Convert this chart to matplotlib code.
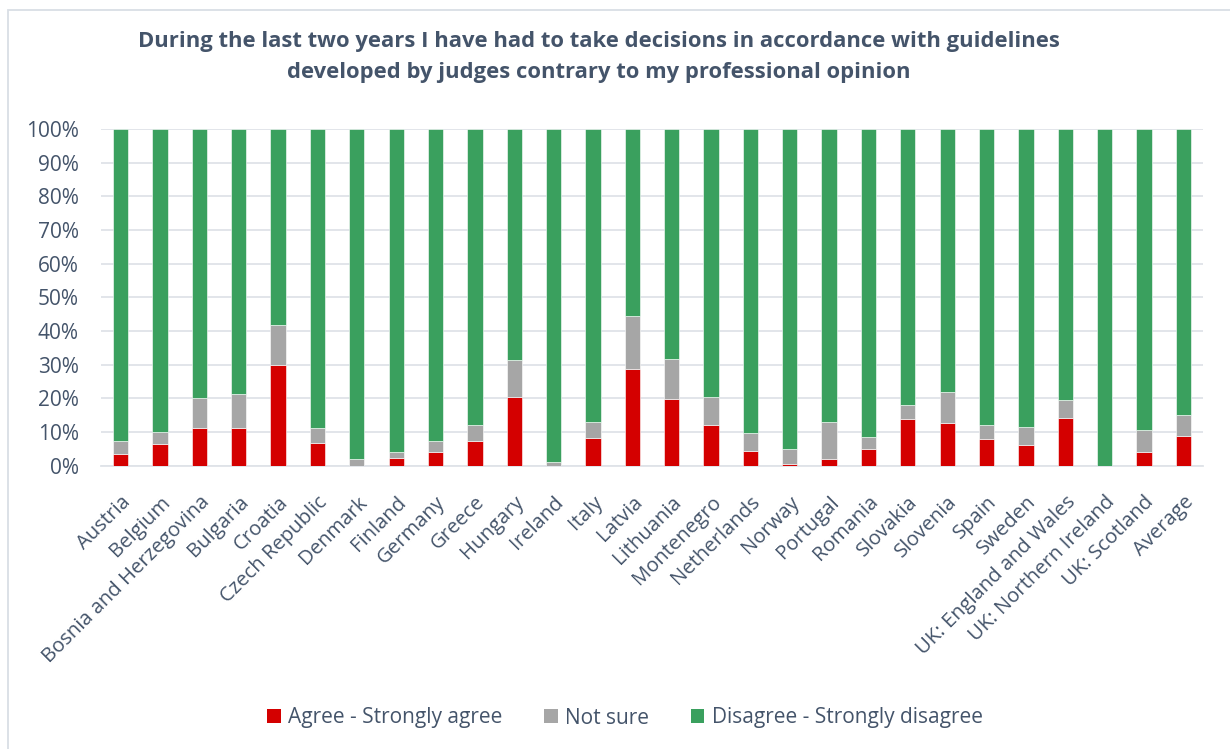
import matplotlib
matplotlib.use("Agg")
import matplotlib.pyplot as plt
from matplotlib.patches import Rectangle, Patch
from matplotlib.ticker import PercentFormatter
import numpy as np

categories = ["Austria", "Belgium", "Bosnia and Herzegovina", "Bulgaria", "Croatia",
              "Czech Republic", "Denmark", "Finland", "Germany", "Greece", "Hungary",
              "Ireland", "Italy", "Latvia", "Lithuania", "Montenegro", "Netherlands",
              "Norway", "Portugal", "Romania", "Slovakia", "Slovenia", "Spain", "Sweden",
              "UK: England and Wales", "UK: Northern Ireland", "UK: Scotland", "Average"]
agree = [3.6, 6.4, 11.3, 11.2, 29.9, 6.8, 0.0, 2.3, 4.1, 7.3, 20.4, 0.0, 8.3, 28.7,
         19.9, 12.1, 4.5, 0.6, 2.1, 5.0, 13.8, 12.8, 7.8, 6.2, 14.3, 0.0, 4.2, 8.9]
not_sure = [3.7, 3.5, 8.8, 10.1, 11.9, 4.4, 2.0, 1.8, 3.2, 4.8, 11.1, 1.1, 4.7, 15.7,
            11.8, 8.3, 5.3, 4.4, 10.8, 3.5, 4.2, 9.1, 4.2, 5.3, 5.2, 0.0, 6.4, 6.1]
disagree = [round(100 - a - n, 1) for a, n in zip(agree, not_sure)]
series_names = ["Agree - Strongly agree", "Not sure", "Disagree - Strongly disagree"]
title = ("During the last two years I have had to take decisions in accordance with guidelines\n"
         "developed by judges contrary to my professional opinion")

colors = ["#D40000", "#A6A6A6", "#3AA05E"]
text_color = "#44546A"
font = "Open Sans"

fig = plt.figure(figsize=(12.30, 7.49), dpi=100)
fig.patch.set_facecolor("white")
ax = fig.add_axes([101 / 1230, 1 - 465.7 / 749, (1203 - 101) / 1230, (465.7 - 129) / 749])

x = np.arange(len(categories))
w = 0.39
a = np.array(agree)
n = np.array(not_sure)
d = np.array(disagree)
ax.bar(x, a, w, color=colors[0], edgecolor="white", linewidth=0.4, zorder=3)
ax.bar(x, n, w, bottom=a, color=colors[1], edgecolor="white", linewidth=0.4, zorder=3)
ax.bar(x, d, w, bottom=a + n, color=colors[2], edgecolor="white", linewidth=0.4, zorder=3)

ax.set_xlim(-0.5, len(categories) - 0.5)
ax.set_ylim(0, 100)
ax.set_yticks(np.arange(0, 101, 10))
ax.yaxis.set_major_formatter(PercentFormatter(decimals=0))
ax.grid(axis="y", color="#DFE3E8", linewidth=1.3, zorder=0)
for s in ["top", "right", "left"]:
    ax.spines[s].set_visible(False)
ax.spines["bottom"].set_color("#DFE3E8")
ax.spines["bottom"].set_linewidth(1.3)
ax.tick_params(axis="both", length=0, colors=text_color, labelsize=15)
ax.tick_params(axis="y", pad=16)
ax.tick_params(axis="x", pad=19)
ax.set_xticks(x)
ax.set_xticklabels(categories, rotation=45, ha="right", rotation_mode="anchor",
                   fontfamily=font, color=text_color, fontsize=14.6)
for lab in ax.get_yticklabels():
    lab.set_fontfamily(font)

fig.text(0.487, 1 - 57 / 749, title, ha="center", va="center", fontsize=15.8,
         fontweight="bold", color=text_color, family=font, linespacing=1.62)

handles = [Patch(facecolor=c, label=l) for c, l in zip(colors, series_names)]
leg = fig.legend(handles=handles, loc="center", bbox_to_anchor=(625 / 1230, 1 - 718 / 749),
                 ncol=3, frameon=False, handlelength=0.65, handleheight=0.65,
                 handletextpad=0.35, columnspacing=2.0,
                 prop={"family": font, "size": 15})
for t in leg.get_texts():
    t.set_color(text_color)

fig.add_artist(Rectangle((8 / 1230, -0.05), 1.2, 1 - 10 / 749 + 0.05, transform=fig.transFigure,
                         fill=False, edgecolor="#D9DEE5", linewidth=1.3))

fig.savefig("out.png", dpi=100)
